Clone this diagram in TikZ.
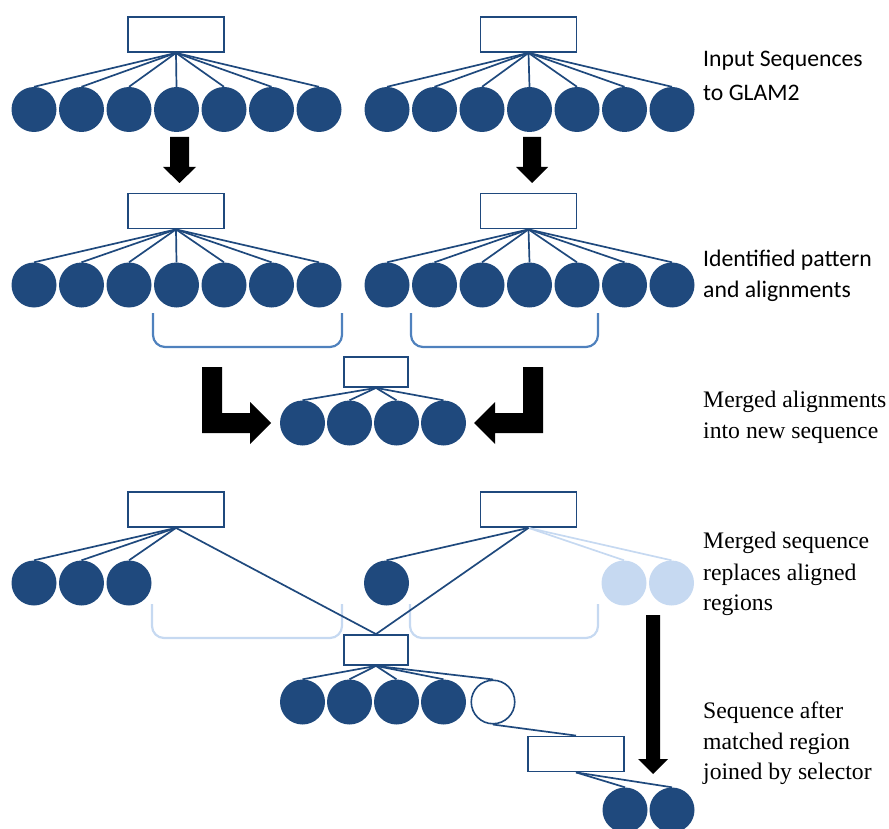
\documentclass[tikz,border=0pt]{standalone}
\usepackage{fontspec}
\setmainfont{Liberation Serif}
\newfontfamily\calfont{Carlito}
\definecolor{navy}{RGB}{31,73,125}
\definecolor{midblue}{RGB}{79,129,189}
\definecolor{lightblue}{RGB}{198,217,241}
\tikzset{
  seqdot/.style={circle, fill=navy, minimum size=45pt, inner sep=0pt},
  seqlight/.style={circle, fill=lightblue, minimum size=45pt, inner sep=0pt},
  seqopen/.style={circle, draw=navy, line width=1.6pt, fill=white, minimum size=43.5pt, inner sep=0pt},
  bigbox/.style={draw=navy, line width=1.8pt, fill=white, minimum width=96pt, minimum height=35pt, inner sep=0pt},
  smallbox/.style={draw=navy, line width=1.8pt, fill=white, minimum width=64pt, minimum height=30pt, inner sep=0pt},
  link/.style={draw=navy, line width=1.7pt},
  lightlink/.style={draw=lightblue, line width=1.7pt},
  bracketline/.style={draw=midblue, line width=2.2pt, rounded corners=12pt},
  lightbracket/.style={draw=lightblue, line width=2.2pt, rounded corners=12pt},
  blockarrow/.style={fill=black},
  sanslabel/.style={anchor=base west, inner sep=0pt, font=\calfont\fontsize{23.7}{28}\selectfont},
  seriflabel/.style={anchor=base west, inner sep=0pt, font=\fontsize{23.7}{28}\selectfont},
}
\begin{document}
\begin{tikzpicture}[x=1pt,y=-1pt]
\useasboundingbox (0,0) rectangle (889,829);

% ---------- Row 1 ----------
\node[bigbox] (b1L) at (176,34.5) {};
\node[bigbox] (b1R) at (528.5,34.5) {};
\foreach \i in {1,...,7} {
  \node[seqdot] (r1L\i) at ({34+47.5*(\i-1)},109.5) {};
  \node[seqdot] (r1R\i) at ({387+47.5*(\i-1)},109.5) {};
}
\foreach \i in {1,...,7} {
  \draw[link] (b1L.south) -- (r1L\i.north);
  \draw[link] (b1R.south) -- (r1R\i.north);
}

% down arrows
\fill[blockarrow] (170,137) -- (189,137) -- (189,167) -- (196,167) -- (179.5,183) -- (163,167) -- (170,167) -- cycle;
\fill[blockarrow] (523,137) -- (541,137) -- (541,167) -- (548,167) -- (532,183) -- (516,167) -- (523,167) -- cycle;

% ---------- Row 2 ----------
\node[bigbox] (b2L) at (176,211) {};
\node[bigbox] (b2R) at (528.5,211) {};
\foreach \i in {1,...,7} {
  \node[seqdot] (r2L\i) at ({34+47.5*(\i-1)},285) {};
  \node[seqdot] (r2R\i) at ({387+47.5*(\i-1)},285) {};
}
\foreach \i in {1,...,7} {
  \draw[link] (b2L.south) -- (r2L\i.north);
  \draw[link] (b2R.south) -- (r2R\i.north);
}
\draw[bracketline] (153,313) -- (153,347) -- (342,347) -- (342,313);
\draw[bracketline] (411,313) -- (411,347) -- (598,347) -- (598,313);

% ---------- Row 3 (merged) ----------
\node[smallbox] (b3) at (376,372) {};
\foreach \i in {1,...,4} {
  \node[seqdot] (r3\i) at ({302.5+47*(\i-1)},423) {};
}
\foreach \i in {1,...,4} {
  \draw[link] (b3.south) -- (r3\i.north);
}
% L-shaped arrows
\fill[blockarrow] (202,367) -- (222,367) -- (222,413) -- (250,413) -- (250,402) -- (271,423) -- (250,444) -- (250,433) -- (202,433) -- cycle;
\fill[blockarrow] (543,367) -- (523,367) -- (523,413) -- (495,413) -- (495,402) -- (474,423) -- (495,444) -- (495,433) -- (543,433) -- cycle;

% ---------- Row 4 ----------
\node[bigbox] (b4L) at (176,509.5) {};
\node[bigbox] (b4R) at (528.5,509.5) {};
\node[seqdot] (r4L1) at (34,583) {};
\node[seqdot] (r4L2) at (81.5,583) {};
\node[seqdot] (r4L3) at (129,583) {};
\node[seqdot] (r4R1) at (386.5,583) {};
\node[seqlight] (r4R2) at (624,583) {};
\node[seqlight] (r4R3) at (671.5,583) {};
\draw[lightbracket] (152,604) -- (152,638) -- (342,638) -- (342,604);
\draw[lightbracket] (410,604) -- (410,638) -- (598,638) -- (598,604);
\draw[lightlink] (b4R.south) -- (r4R2.north);
\draw[lightlink] (b4R.south) -- (r4R3.north);

% ---------- Row 5 ----------
\node[smallbox] (b5) at (376,650) {};
\foreach \i in {1,...,4} {
  \node[seqdot] (r5\i) at ({302.5+47*(\i-1)},702) {};
}
\node[seqopen] (r55) at (493,702) {};
\draw[link] (b4L.south) -- (r4L1.north);
\draw[link] (b4L.south) -- (r4L2.north);
\draw[link] (b4L.south) -- (r4L3.north);
\draw[link] (b4L.south) -- (b5.north);
\draw[link] (b4R.south) -- (r4R1.north);
\draw[link] (b4R.south) -- (b5.north);
\foreach \i in {1,...,5} {
  \draw[link] (b5.south) -- (r5\i.north);
}
\node[bigbox] (sel) at (576,754) {};
\draw[link] (r55.south) -- (sel.north);
\node[seqdot] (r6a) at (625,810) {};
\node[seqdot] (r6b) at (672,810) {};
\draw[link] (sel.south) -- (r6a.north);
\draw[link] (sel.south) -- (r6b.north);

% down arrow right
\fill[blockarrow] (646,615) -- (660,615) -- (660,759) -- (668,759) -- (653,774) -- (638,759) -- (646,759) -- cycle;

% ---------- Labels ----------
\node[sanslabel] (t1a) at (703,67) {Input Sequences};
\node[sanslabel] (t1b) at (703,101) {to GLAM2};
\node[sanslabel] (t2a) at (703,266) {Identified pattern};
\node[sanslabel] (t2b) at (703,298) {and alignments};
\node[seriflabel] (t3a) at (703,407) {Merged alignments};
\node[seriflabel] (t3b) at (703,438) {into new sequence};
\node[seriflabel] (t4a) at (703,548) {Merged sequence};
\node[seriflabel] (t4b) at (703,580) {replaces aligned};
\node[seriflabel] (t4c) at (703,610) {regions};
\node[seriflabel] (t5a) at (703,718) {Sequence after};
\node[seriflabel] (t5b) at (703,749) {matched region};
\node[seriflabel] (t5c) at (703,779) {joined by selector};
\end{tikzpicture}
\end{document}
